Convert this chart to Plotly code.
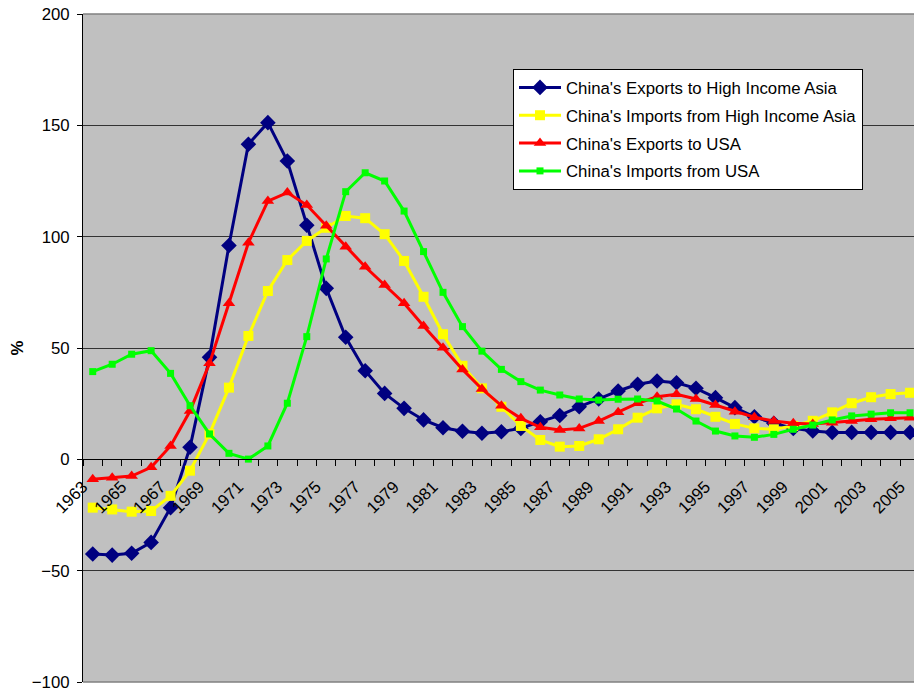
import plotly.graph_objects as go

years = list(range(1963, 2006))

exports_hia = [-42.5, -43.0, -42.2, -37.3, -21.7, 5.4, 45.8, 96.0, 141.5, 151.2,
               134.0, 105.1, 76.8, 54.8, 39.8, 29.6, 22.9, 17.7, 14.2, 12.6,
               11.7, 12.4, 13.9, 16.9, 19.7, 23.6, 27.1, 30.7, 33.7, 35.2,
               34.4, 31.9, 27.7, 23.2, 19.1, 16.2, 13.9, 12.7, 12.1, 12.1,
               12.1, 12.1, 12.1]
imports_hia = [-21.7, -22.5, -23.5, -23.2, -16.4, -5.1, 11.4, 32.2, 55.4, 75.6,
               89.5, 98.1, 104.0, 109.3, 108.3, 101.1, 89.1, 73.0, 56.2, 42.0,
               31.9, 23.6, 15.0, 8.7, 5.7, 6.0, 9.0, 13.5, 18.7, 22.9,
               24.7, 22.5, 19.1, 15.9, 13.9, 13.5, 15.0, 17.3, 21.1, 25.2,
               27.9, 29.3, 29.9]
exports_usa = [-8.9, -8.3, -7.5, -3.6, 6.0, 21.7, 43.1, 70.1, 97.3, 116.0,
               119.8, 114.2, 104.9, 95.5, 86.5, 78.3, 70.1, 59.9, 50.1, 40.4,
               31.6, 24.1, 18.4, 14.4, 13.2, 13.9, 17.2, 21.1, 25.2, 28.1,
               29.2, 27.1, 24.4, 21.4, 18.9, 17.2, 16.2, 15.9, 16.4, 17.2,
               18.0, 18.4, 18.7]
imports_usa = [39.4, 42.7, 47.2, 48.8, 38.6, 24.1, 11.4, 2.7, 0.1, 6.0,
               25.2, 55.1, 90.0, 120.2, 128.7, 125.0, 111.5, 93.3, 75.0, 59.6,
               48.6, 40.4, 34.9, 31.1, 28.9, 27.1, 26.6, 27.0, 27.1, 26.2,
               22.6, 17.2, 12.7, 10.5, 9.9, 11.2, 13.5, 15.4, 17.7, 19.5,
               20.3, 20.9, 20.9]

names = ["China's Exports to High Income Asia",
         "China's Imports from High Income Asia",
         "China's Exports to USA",
         "China's Imports from USA"]

tick_years = list(range(1963, 2006, 2))
tick_text = [str(y) for y in tick_years]
y_ticks = [-100, -50, 0, 50, 100, 150, 200]

FONT = "Liberation Sans, Arial, sans-serif"
FS = 16.8

# plot area target: x 83..914, y 14..682.5 (page body margin removed below)
fig = go.Figure()
styles = [
    (exports_hia, "#000080", "diamond", 12),
    (imports_hia, "#FFFF00", "square", 10),
    (exports_usa, "#FF0000", "triangle-up", 11),
    (imports_usa, "#00FF00", "square", 7),
]
for i, ((vals, col, sym, sz), nm) in enumerate(zip(styles, names)):
    fig.add_trace(go.Scatter(
        x=years, y=vals, name=nm, mode="lines+markers",
        line=dict(color=col, width=3),
        marker=dict(symbol=sym, size=sz, color=col, line=dict(width=0)),
        legendgroup=f"g{i}",
    ))

fig.update_layout(
    width=914, height=694,
    margin=dict(l=83, r=0, t=14, b=11.5, autoexpand=False),
    paper_bgcolor="white",
    plot_bgcolor="#C0C0C0",
    font=dict(family=FONT, size=FS, color="black"),
    showlegend=True,
    legend=dict(
        x=(513 - 83) / 831, y=(682.5 - 69) / 668.5, xanchor="left", yanchor="top",
        bgcolor="white", bordercolor="black", borderwidth=1,
        font=dict(family=FONT, size=FS, color="black"),
        itemwidth=42, tracegroupgap=3,
    ),
    xaxis=dict(
        type="linear",
        range=[1962.5, 1962.5 + 831 / 19.46],
        anchor="free", position=1 / 3,
        automargin=False,
        showline=True, linecolor="black", linewidth=1,
        showgrid=False, zeroline=False,
        tickmode="array", tickvals=tick_years, ticktext=tick_text,
        ticks="", tickangle=-45,
        ticklabelstandoff=10, ticklabelshift=-10,
        ticklabeloverflow="allow",
        tickfont=dict(family=FONT, size=FS, color="black"),
        minor=dict(tickmode="array",
                   tickvals=[y - 0.5 for y in range(1963, 2008)],
                   ticks="outside", ticklen=6, tickcolor="black",
                   showgrid=False),
    ),
    yaxis=dict(
        range=[-100, 200],
        automargin=False,
        tickmode="array", tickvals=y_ticks,
        showline=True, linecolor="black", linewidth=1,
        showgrid=True, gridcolor="#333333", gridwidth=1,
        zeroline=False,
        ticks="outside", ticklen=5, tickcolor="black",
        ticklabelstandoff=4,
        ticklabeloverflow="allow",
        tickfont=dict(family=FONT, size=FS, color="black"),
        title=dict(text="<b>%</b>", font=dict(family=FONT, size=FS, color="black"),
                   standoff=3),
    ),
    shapes=[
        dict(type="line", xref="paper", yref="paper", x0=0, x1=1, y0=1, y1=1,
             line=dict(color="#808080", width=1.5)),
        dict(type="line", xref="paper", yref="paper", x0=0, x1=1, y0=0, y1=0,
             line=dict(color="#808080", width=1.5)),
    ],
)

fig.write_html("out.html",
               config={"displayModeBar": False},
               post_script="document.body.style.margin='0';document.body.style.overflow='hidden';")
